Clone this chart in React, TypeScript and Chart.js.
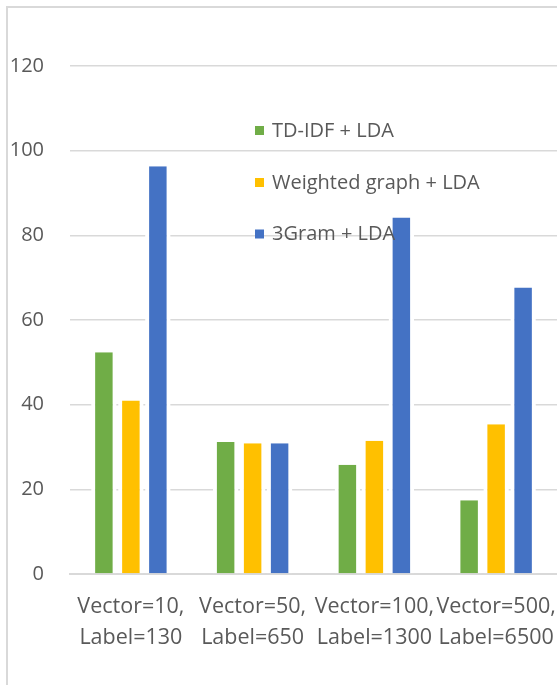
import React, { useEffect, useRef } from "react";
import { Chart, registerables } from "chart.js";

Chart.register(...registerables);

const categories: string[][] = [
  ["Vector=10,", "Label=130"],
  ["Vector=50,", "Label=650"],
  ["Vector=100,", "Label=1300"],
  ["Vector=500,", "Label=6500"],
];

const seriesNames = ["TD-IDF + LDA", "Weighted graph + LDA", "3Gram + LDA"];
const tdIdfLda = [52.4, 31.2, 25.8, 17.4];
const weightedGraphLda = [41.0, 30.9, 31.5, 35.4];
const threeGramLda = [96.3, 30.9, 84.2, 67.7];
const seriesColors = ["#70AD47", "#FFC000", "#4472C4"];

const yTicks = [0, 20, 40, 60, 80, 100, 120];

const FONT = "'Open Sans', 'Noto Sans', sans-serif";
const TEXT = "#595959";

// Legend drawn inside the plot area, over the bars, without a background
const inlineLegend = {
  id: "inlineLegend",
  afterDatasetsDraw(chart: any) {
    const ctx = chart.ctx as CanvasRenderingContext2D;
    const rows = [130.5, 182.5, 234];
    ctx.save();
    ctx.font = `20px ${FONT}`;
    ctx.textBaseline = "middle";
    ctx.textAlign = "left";
    chart.data.datasets.forEach((ds: any, i: number) => {
      const y = rows[i];
      ctx.fillStyle = ds.backgroundColor;
      ctx.fillRect(255, y - 4.5, 9, 9);
      ctx.fillStyle = TEXT;
      ctx.fillText(ds.label, 272, y + 0.5);
    });
    ctx.restore();
  },
};

export default function App() {
  const canvasRef = useRef<HTMLCanvasElement | null>(null);

  useEffect(() => {
    const canvas = canvasRef.current;
    if (!canvas) return;
    const series = [tdIdfLda, weightedGraphLda, threeGramLda];
    const chart = new Chart(canvas, {
      type: "bar",
      data: {
        labels: categories,
        datasets: series.map((values, i) => ({
          label: seriesNames[i],
          data: values,
          backgroundColor: seriesColors[i],
          borderColor: "#FFFFFF",
          borderWidth: { left: 4, right: 4, top: 0, bottom: 0 },
          borderSkipped: false,
          categoryPercentage: 0.665,
          barPercentage: 0.944,
        })),
      },
      options: {
        responsive: false,
        animation: false,
        devicePixelRatio: 1,
        layout: { padding: { top: 66, left: 0, right: 0, bottom: 0 } },
        plugins: {
          legend: { display: false },
          tooltip: { enabled: false },
        },
        scales: {
          x: {
            grid: { display: false, drawTicks: false },
            border: { display: true, color: "#D9D9D9", width: 2 },
            ticks: {
              color: TEXT,
              font: { family: FONT, size: 21.5, lineHeight: 1.45 },
              padding: 17,
              maxRotation: 0,
              autoSkip: false,
            },
            afterFit(scale: any) {
              scale.height = 111;
              // let the plot run all the way to the right edge
              scale.paddingLeft = 0;
              scale.paddingRight = 0;
            },
          },
          y: {
            min: 0,
            max: 120,
            afterBuildTicks(scale: any) {
              scale.ticks = yTicks.map((v) => ({ value: v }));
            },
            grid: { color: "#D9D9D9", lineWidth: 1.6, drawTicks: false },
            border: { display: false },
            ticks: {
              color: TEXT,
              font: { family: FONT, size: 20 },
              padding: 26,
            },
            afterFit(scale: any) {
              scale.width = 70;
            },
          },
        },
      },
      plugins: [inlineLegend],
    });
    return () => chart.destroy();
  }, []);

  return (
    <div
      style={{
        position: "fixed",
        left: 0,
        top: 0,
        width: 557,
        height: 685,
        overflow: "hidden",
        background: "#FFFFFF",
      }}
    >
      <canvas
        ref={canvasRef}
        width={557}
        height={685}
        style={{ position: "absolute", left: 0, top: 0, width: 557, height: 685 }}
      />
      <div
        style={{
          position: "absolute",
          left: 6,
          top: 6,
          width: 600,
          height: 700,
          borderLeft: "2px solid #D9D9D9",
          borderTop: "2px solid #D9D9D9",
          pointerEvents: "none",
        }}
      />
    </div>
  );
}
